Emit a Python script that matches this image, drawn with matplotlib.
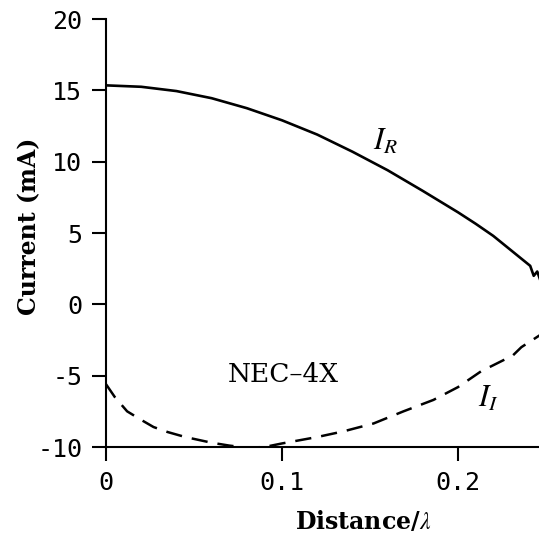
import numpy as np
import matplotlib
matplotlib.use("Agg")
import matplotlib.pyplot as plt

plt.rcParams['axes.unicode_minus'] = False
plt.rcParams['mathtext.fontset'] = 'stix'

# real part of the current along the wire
dist_r = [0.0, 0.02, 0.04, 0.06, 0.08, 0.10, 0.12, 0.14, 0.16, 0.18, 0.20,
          0.21, 0.22, 0.23, 0.235, 0.239, 0.241, 0.243, 0.245, 0.247, 0.25]
cur_r = [15.35, 15.25, 14.95, 14.45, 13.75, 12.9, 11.9, 10.7, 9.4, 7.95, 6.45,
         5.65, 4.8, 3.8, 3.3, 2.9, 2.7, 2.0, 2.3, 1.6, 1.8]

# imaginary part
dist_i = [0.0, 0.005, 0.012, 0.02, 0.027, 0.035, 0.045, 0.06, 0.07, 0.08,
          0.09, 0.10, 0.12, 0.135, 0.152, 0.169, 0.186, 0.20, 0.213, 0.226,
          0.231, 0.236, 0.246, 0.25]
cur_i = [-5.6, -6.5, -7.5, -8.1, -8.6, -8.95, -9.3, -9.7, -9.9, -10.05,
         -10.0, -9.75, -9.3, -8.9, -8.35, -7.5, -6.7, -5.8, -4.7, -3.9,
         -3.6, -3.0, -2.2, -1.9]

yticks = [-10, -5, 0, 5, 10, 15, 20]
xticks = [0, 0.1, 0.2]
xtick_labels = ['0', '0.1', '0.2']

fig = plt.figure(figsize=(5.39, 5.45), dpi=100)
ax = fig.add_axes([0.1967, 0.1798, 0.8033, 0.7853])

ax.plot(dist_r, cur_r, color='black', lw=1.9, solid_joinstyle='round')
ax.plot(dist_i, cur_i, color='black', lw=1.8, dashes=(6.5, 4))

ax.set_xlim(0, 0.246)
ax.set_ylim(-10, 20)
ax.set_xticks(xticks)
ax.set_xticklabels(xtick_labels)
ax.set_yticks(yticks)
ax.set_yticklabels([str(t) for t in yticks])

for side in ['top', 'right']:
    ax.spines[side].set_visible(False)
for side in ['left', 'bottom']:
    ax.spines[side].set_linewidth(1.5)

ax.tick_params(direction='out', length=10, width=1.5, pad=7,
               labelsize=18, color='black')
for lab in ax.get_xticklabels() + ax.get_yticklabels():
    lab.set_family('DejaVu Sans Mono')

ax.set_xlabel('Distance/$\\lambda$', family='DejaVu Serif', fontweight='bold',
              fontsize=17)
ax.xaxis.set_label_coords(0.594, -0.145)
ax.set_ylabel('Current (mA)', family='DejaVu Serif', fontweight='bold',
              fontsize=17)
ax.yaxis.set_label_coords(-0.15, 0.516)

ax.text(0.1006, -4.9, 'NEC\u20134X', family='DejaVu Serif', fontsize=19,
        ha='center', va='center')
ax.text(0.159, 11.4, '$I_R$', fontsize=22, ha='center', va='center')
ax.text(0.217, -6.6, '$I_I$', fontsize=22, ha='center', va='center')

fig.savefig('out.png', dpi=100)
